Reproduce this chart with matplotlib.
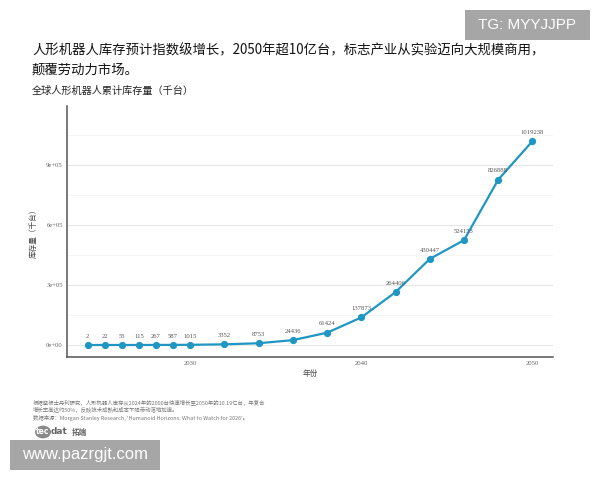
import matplotlib
matplotlib.use("Agg")
import matplotlib.pyplot as plt
from matplotlib.patches import Circle, Rectangle
from matplotlib.ticker import FixedLocator

years = [2024, 2025, 2026, 2027, 2028, 2029, 2030, 2032, 2034, 2036, 2038,
         2040, 2042, 2044, 2046, 2048, 2050]
stock = [2, 22, 55, 115, 267, 587, 1015, 3352, 8753, 24436, 61424,
         137873, 264406, 430447, 524153, 826888, 1019238]
x_ticks = [2030, 2040, 2050]
y_ticks = [0, 300000, 600000, 900000]
y_tick_labels = ["0e+00", "3e+05", "6e+05", "9e+05"]
y_minor = [150000, 450000, 750000, 1050000]

title1 = "人形机器人库存预计指数级增长，2050年超10亿台，标志产业从实验迈向大规模商用，"
title2 = "颠覆劳动力市场。"
subtitle = "全球人形机器人累计库存量（千台）"
xlabel = "年份"
ylabel = "库存量（千台）"
foot1 = "根据摩根士丹利研究，人形机器人库存从2024年的2000台快速增长至2050年的10.19亿台，年复合"
foot2 = "增长率高达约50%，反映技术成熟和成本下降带动落地加速。"
foot3 = "数据来源：Morgan Stanley Research, 'Humanoid Horizons: What to Watch for 2026'。"

cjk = ["Noto Sans CJK SC", "DejaVu Sans"]
serif = ["Liberation Serif", "DejaVu Serif"]
plt.rcParams["font.family"] = cjk

W, H = 600, 480
fig = plt.figure(figsize=(6, 4.8), dpi=100)
fig.patch.set_facecolor("white")

def fx(px):
    return px / W

def fy(py):
    return 1 - py / H

ax = fig.add_axes([fx(67), fy(357), fx(553) - fx(67), fy(106) - fy(357)])
line_color = "#2096c3"
ax.plot(years, stock, color=line_color, lw=1.6, marker="o", ms=4.2,
        mfc=line_color, mec=line_color, zorder=3)
for xv, yv in zip(years, stock):
    ax.annotate(str(yv), (xv, yv), xytext=(0, 4.5), textcoords="offset points",
                ha="center", va="bottom", fontsize=4.8, color="#555555",
                family=serif, zorder=4)

ax.set_xlim(2022.8, 2051.2)
ax.set_ylim(-60000, 1195000)
ax.set_xticks(x_ticks)
ax.set_xticklabels([str(t) for t in x_ticks], family=serif, fontsize=4.8, color="#666666")
ax.set_yticks(y_ticks)
ax.set_yticklabels(y_tick_labels, family=serif, fontsize=4.8, color="#666666")
ax.yaxis.set_minor_locator(FixedLocator(y_minor))
ax.tick_params(axis="both", which="both", length=0, pad=3)
ax.grid(axis="y", which="major", color="#e6e6e6", lw=0.8)
ax.grid(axis="y", which="minor", color="#f2f2f2", lw=0.6)
ax.set_axisbelow(True)
for s in ["top", "right"]:
    ax.spines[s].set_visible(False)
for s in ["left", "bottom"]:
    ax.spines[s].set_color("#555555")
    ax.spines[s].set_linewidth(1.1)
ax.set_xlabel(xlabel, fontsize=5.5, color="#444444", labelpad=3)
ax.set_ylabel(ylabel, fontsize=5.5, color="#444444", labelpad=6)

fig.text(fx(32), fy(50), title1, fontsize=9.6, color="#111111", va="center", ha="left")
fig.text(fx(32), fy(70), title2, fontsize=9.6, color="#111111", va="center", ha="left")
fig.text(fx(32), fy(91), subtitle, fontsize=7.3, color="#222222", va="center", ha="left")

fig.text(fx(33), fy(402), foot1, fontsize=3.9, color="#777777", va="center", ha="left")
fig.text(fx(33), fy(410), foot2, fontsize=3.9, color="#777777", va="center", ha="left")
fig.text(fx(33), fy(418), foot3, fontsize=3.9, color="#777777", va="center", ha="left")

# logo
circ = Circle((fx(43), fy(432)), radius=fx(8), transform=fig.transFigure,
              facecolor="#8a8a8a", edgecolor="none")
fig.patches.append(circ)
fig.text(fx(43), fy(432), "tec", fontsize=5.5, color="white", ha="center", va="center",
         family=["DejaVu Sans"], weight="bold")
fig.text(fx(51), fy(432), "dat", fontsize=6.5, color="#666666", ha="left", va="center",
         family=["DejaVu Sans"], weight="bold")
fig.text(fx(72), fy(432), "拓端", fontsize=5.5, color="#666666", ha="left", va="center",
         weight="bold")

# watermark boxes
fig.patches.append(Rectangle((fx(465), fy(40)), fx(590) - fx(465), fy(10) - fy(40),
                             transform=fig.transFigure, facecolor="#a6a6a6", edgecolor="none"))
fig.text(fx(527.5), fy(25), "TG: MYYJJPP", fontsize=11, color="white", ha="center", va="center",
         family=["Liberation Sans", "DejaVu Sans"])
fig.patches.append(Rectangle((fx(10), fy(470)), fx(160) - fx(10), fy(440) - fy(470),
                             transform=fig.transFigure, facecolor="#a6a6a6", edgecolor="none"))
fig.text(fx(85), fy(455), "www.pazrgjt.com", fontsize=12, color="white", ha="center", va="center",
         family=["Liberation Sans", "DejaVu Sans"])

fig.savefig("out.png", dpi=100, facecolor="white")
